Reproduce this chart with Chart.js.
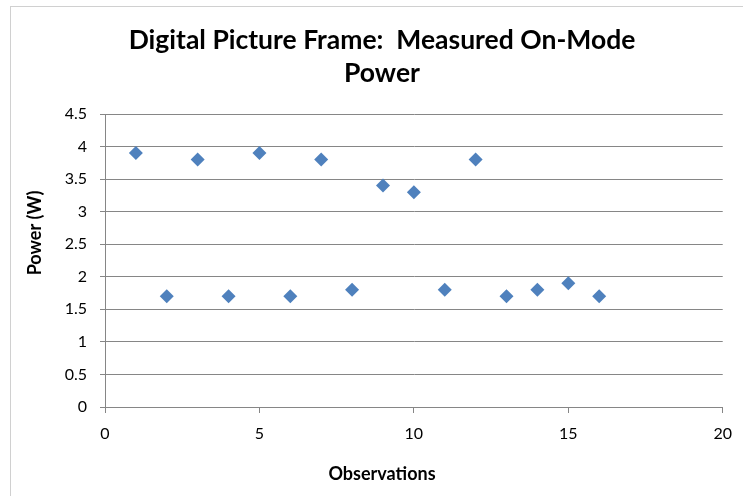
<!DOCTYPE html>
<html>
<head>
<meta charset="utf-8">
<script src="https://cdn.jsdelivr.net/npm/chart.js@4"></script>
<style>
  html, body { margin: 0; padding: 0; background: #fff; }
  #wrap { position: relative; width: 743px; height: 496px; overflow: hidden; }
  #frame { position: absolute; left: 10px; top: 6px; width: 800px; height: 600px; border: 1px solid #d0d0d0; }
  canvas { position: absolute; left: 0; top: 0; }
</style>
</head>
<body>
<div id="wrap">
  <div id="frame"></div>
  <canvas id="myChart" width="743" height="496"></canvas>
</div>
<script>
const ctx = document.getElementById('myChart');

// observations and measured power (W)
const observations = [1, 2, 3, 4, 5, 6, 7, 8, 9, 10, 11, 12, 13, 14, 15, 16];
const powerW = [3.9, 1.7, 3.8, 1.7, 3.9, 1.7, 3.8, 1.8, 3.4, 3.3, 1.8, 3.8, 1.7, 1.8, 1.9, 1.7];

const xTicks = [0, 5, 10, 15, 20];
const yTicks = [0, 0.5, 1, 1.5, 2, 2.5, 3, 3.5, 4, 4.5];

const titleLines = ['Digital Picture Frame:  Measured On-Mode', 'Power'];
const xTitle = 'Observations';
const yTitle = 'Power (W)';

const points = observations.map(function(x, i) {
    return { x: x, y: powerW[i] };
});

const axisGray = '#868686';

// Excel centres the titles a bit left of the plot area, so draw them by hand
const titlesPlugin = {
    id: 'titles',
    afterDraw: function(chart) {
        const c = chart.ctx;
        c.save();
        c.fillStyle = '#000';
        c.textAlign = 'center';
        c.textBaseline = 'middle';
        c.font = 'bold 26.5px Lato';
        c.fillText(titleLines[0], 382, 40);
        c.fillText(titleLines[1], 382, 73);
        c.font = 'bold 18px Lato';
        c.fillText(xTitle, 382, 474);
        c.translate(35, 233);
        c.rotate(-Math.PI / 2);
        c.fillText(yTitle, 0, 0);
        c.restore();
    }
};

const myChart = new Chart(ctx, {
    type: 'scatter',
    data: {
        datasets: [{
            label: 'Power (W)',
            data: points,
            pointStyle: 'rectRot',
            pointRadius: 7,
            pointHoverRadius: 7,
            backgroundColor: '#4f81bd',
            borderColor: '#4f81bd',
            borderWidth: 0
        }]
    },
    plugins: [titlesPlugin],
    options: {
        responsive: false,
        animation: false,
        layout: { padding: { left: 0, right: 19, top: 114, bottom: 0 } },
        plugins: {
            legend: { display: false },
            tooltip: { enabled: false },
            title: { display: false }
        },
        scales: {
            x: {
                type: 'linear',
                min: 0,
                max: 20,
                afterBuildTicks: function(scale) {
                    scale.ticks = xTicks.map(function(v) { return { value: v }; });
                },
                afterFit: function(scale) { scale.height = 89; },
                grid: { drawOnChartArea: false, drawTicks: true, tickLength: 6, color: axisGray },
                border: { color: axisGray, width: 1 },
                ticks: {
                    color: '#000', padding: 11, font: { family: 'Lato', size: 16 },
                    callback: function(v) { return String(v); }
                }
            },
            y: {
                type: 'linear',
                min: 0,
                max: 4.5,
                afterBuildTicks: function(scale) {
                    scale.ticks = yTicks.map(function(v) { return { value: v }; });
                },
                afterFit: function(scale) { scale.width = 105; },
                grid: { color: axisGray, tickLength: 5 },
                border: { color: axisGray, width: 1 },
                ticks: {
                    color: '#000', padding: 13, font: { family: 'Lato', size: 16 },
                    callback: function(v) { return String(v); }
                }
            }
        }
    }
});
</script>
</body>
</html>
